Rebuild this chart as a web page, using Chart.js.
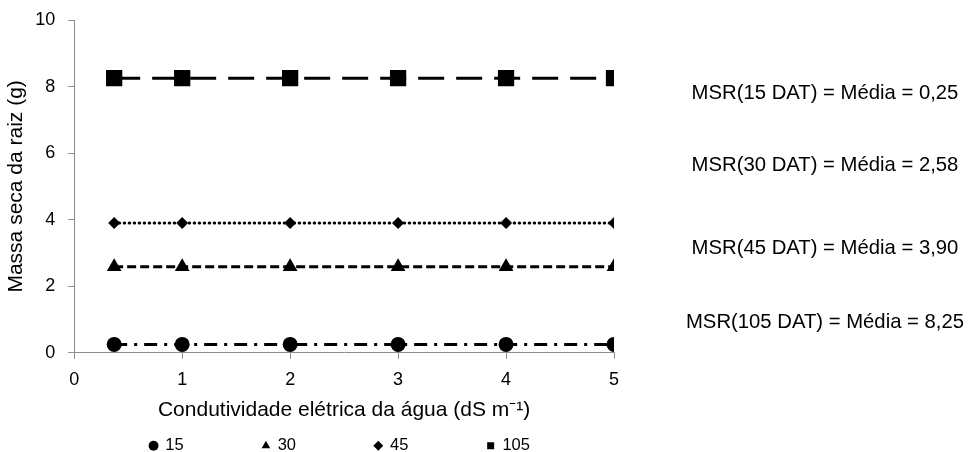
<!DOCTYPE html>
<html>
<head>
<meta charset="utf-8">
<script src="https://cdn.jsdelivr.net/npm/chart.js@4"></script>
<style>
    html, body { margin: 0; padding: 0; background: #fff; }
    #wrap { position: relative; width: 976px; height: 452px; overflow: hidden; }
    #chart { position: absolute; left: 0; top: 0; }
    .note {
        position: absolute;
        width: 320px;
        left: 665px;
        text-align: center;
        font-family: 'Liberation Sans', Arial, sans-serif;
        font-size: 20.3px;
        color: #000;
        line-height: 24px;
        white-space: nowrap;
    }
</style>
</head>
<body>
<div id="wrap">
    <canvas id="chart" width="976" height="452"></canvas>
    <div class="note" style="top: 80px;">MSR(15 DAT) = Média = 0,25</div>
    <div class="note" style="top: 152px;">MSR(30 DAT) = Média = 2,58</div>
    <div class="note" style="top: 235px;">MSR(45 DAT) = Média = 3,90</div>
    <div class="note" style="top: 309px;">MSR(105 DAT) = Média = 8,25</div>
</div>
<script>
// Condutividade elétrica da água (dS m-1)
const condutividade = [0.37, 1, 2, 3, 4, 5];

// Massa seca da raiz (g) por época (DAT)
const seriesLabels = ['15', '30', '45', '105'];
const msr15 = [0.25, 0.25, 0.25, 0.25, 0.25, 0.25];
const msr30 = [2.58, 2.58, 2.58, 2.58, 2.58, 2.58];
const msr45 = [3.90, 3.90, 3.90, 3.90, 3.90, 3.90];
const msr105 = [8.25, 8.25, 8.25, 8.25, 8.25, 8.25];

const xTicks = [0, 1, 2, 3, 4, 5];
const yTicks = [0, 2, 4, 6, 8, 10];

const FONT = "'Liberation Sans', Arial, sans-serif";
const axisColor = '#8c8c8c';

function toPoints(values) {
    return condutividade.map((x, i) => ({ x: x, y: values[i] }));
}

const ctx = document.getElementById('chart').getContext('2d');

const chart = new Chart(ctx, {
    type: 'line',
    data: {
        datasets: [
            {
                label: seriesLabels[0],
                data: toPoints(msr15),
                borderColor: '#000',
                backgroundColor: '#000',
                borderWidth: 3,
                borderDash: [13, 7, 3, 7],
                pointStyle: 'circle',
                pointRadius: 7.5,
                pointBorderWidth: 0
            },
            {
                label: seriesLabels[1],
                data: toPoints(msr30),
                borderColor: '#000',
                backgroundColor: '#000',
                borderWidth: 3,
                borderDash: [9, 4],
                pointStyle: 'triangle',
                pointRadius: 8.5,
                pointBorderWidth: 0
            },
            {
                label: seriesLabels[2],
                data: toPoints(msr45),
                borderColor: '#000',
                backgroundColor: '#000',
                borderWidth: 3,
                borderDash: [0.5, 4.5],
                borderCapStyle: 'round',
                pointStyle: 'rectRot',
                pointRadius: 6,
                pointBorderWidth: 0
            },
            {
                label: seriesLabels[3],
                data: toPoints(msr105),
                borderColor: '#000',
                backgroundColor: '#000',
                borderWidth: 3,
                borderDash: [26, 12],
                pointStyle: 'rect',
                pointRadius: 11.5,
                pointBorderWidth: 0
            }
        ]
    },
    options: {
        responsive: false,
        animation: false,
        layout: { padding: { top: 8, left: 4, right: 300, bottom: -12 } },
        scales: {
            x: {
                type: 'linear',
                min: 0,
                max: 5,
                afterBuildTicks: (scale) => { scale.ticks = xTicks.map(v => ({ value: v })); },
                ticks: { color: '#000', font: { family: FONT, size: 18 }, padding: 11 },
                grid: { drawOnChartArea: false, drawTicks: true, tickLength: 6, color: axisColor },
                border: { color: axisColor, width: 1 },
                title: {
                    display: true,
                    text: 'Condutividade elétrica da água (dS m⁻¹)',
                    color: '#000',
                    font: { family: FONT, size: 21 },
                    padding: { top: -5, bottom: 5 }
                }
            },
            y: {
                min: 0,
                max: 10,
                afterBuildTicks: (scale) => { scale.ticks = yTicks.map(v => ({ value: v })); },
                // fix the room above the plot instead of taking it from the "10" label
                afterFit: (scale) => { scale.paddingTop = 20; },
                ticks: { color: '#000', font: { family: FONT, size: 18 }, padding: 13 },
                grid: { drawOnChartArea: false, drawTicks: true, tickLength: 6, color: axisColor },
                border: { color: axisColor, width: 1 },
                title: {
                    display: true,
                    text: 'Massa seca da raiz (g)',
                    color: '#000',
                    font: { family: FONT, size: 21 },
                    padding: { top: 0, bottom: -7 }
                }
            },
            spacer: {
                // empty right axis, only pushes the plot edge to the left
                position: 'right',
                display: true,
                ticks: { display: false },
                grid: { display: false },
                border: { display: false },
                afterFit: (scale) => { scale.width = 62; }
            }
        },
        plugins: {
            legend: {
                position: 'bottom',
                labels: {
                    usePointStyle: true,
                    boxWidth: 7,
                    boxHeight: 7,
                    padding: 10,
                    color: '#000',
                    font: { family: FONT, size: 16.5 },
                    // widen the gap between entries without growing the legend's height
                    generateLabels: (c) => {
                        const items = Chart.defaults.plugins.legend.labels.generateLabels(c);
                        return items.map((item, i) => {
                            if (i < items.length - 1) item.text += '\u00a0'.repeat(15);
                            return item;
                        });
                    }
                }
            },
            tooltip: { enabled: false }
        }
    }
});
</script>
</body>
</html>
